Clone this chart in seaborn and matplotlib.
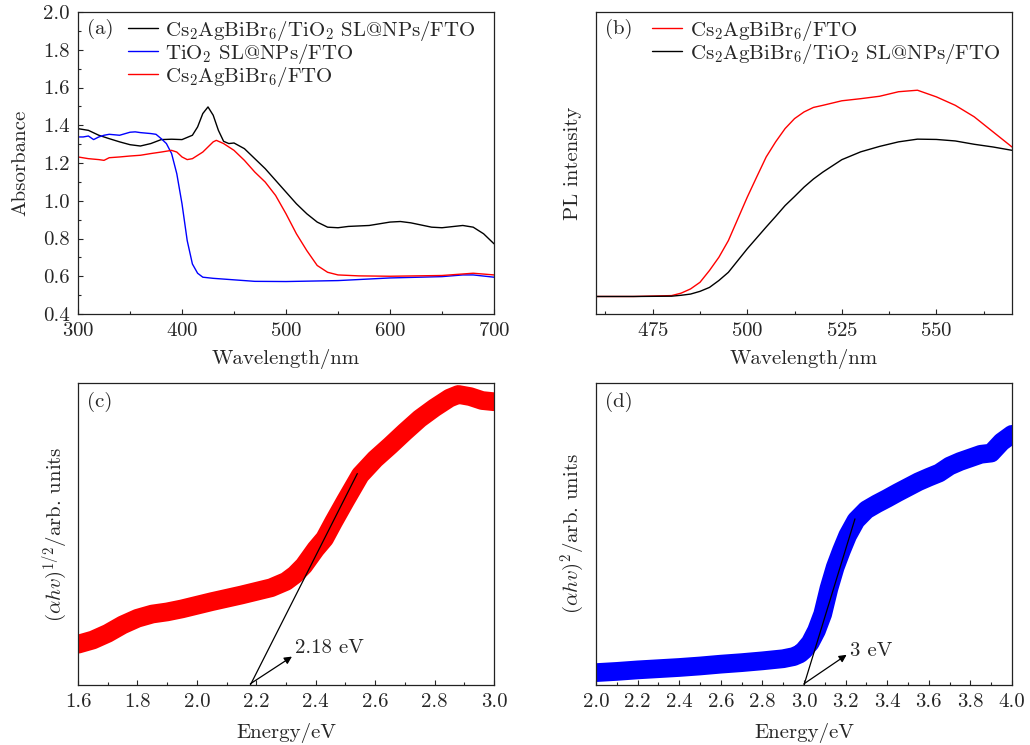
import numpy as np
import pandas as pd
import matplotlib
matplotlib.use("Agg")
import matplotlib.pyplot as plt
from matplotlib.ticker import MultipleLocator, NullLocator
import seaborn as sns

# ---------------- data ----------------
# (a) absorbance
wl_black = [300, 310, 320, 330, 340, 350, 360, 370, 380, 390, 400, 410, 415, 420, 425, 430, 435, 440,
            445, 450, 460, 470, 480, 490, 500, 510, 520, 530, 540, 550, 560, 580, 600, 610, 620, 640,
            650, 670, 680, 690, 700]
abs_black = [1.382, 1.373, 1.347, 1.329, 1.312, 1.297, 1.290, 1.303, 1.324, 1.326, 1.324, 1.347, 1.391,
             1.462, 1.497, 1.453, 1.373, 1.315, 1.303, 1.306, 1.276, 1.223, 1.170, 1.108, 1.046, 0.984,
             0.931, 0.887, 0.860, 0.857, 0.864, 0.869, 0.887, 0.890, 0.883, 0.860, 0.857, 0.869, 0.860,
             0.825, 0.772]
wl_blue = [300, 305, 310, 315, 320, 325, 330, 340, 350, 355, 360, 370, 375, 380, 385, 390, 395, 400,
           405, 410, 415, 420, 430, 450, 470, 500, 550, 600, 650, 670, 680, 700]
abs_blue = [1.338, 1.338, 1.343, 1.324, 1.338, 1.347, 1.352, 1.347, 1.363, 1.365, 1.361, 1.356, 1.352,
            1.329, 1.303, 1.250, 1.143, 0.984, 0.789, 0.665, 0.616, 0.595, 0.589, 0.581, 0.573, 0.572,
            0.577, 0.591, 0.598, 0.607, 0.607, 0.595]
wl_red = [300, 310, 320, 325, 330, 340, 350, 360, 370, 380, 390, 395, 400, 405, 410, 420, 430, 433,
          440, 450, 460, 470, 480, 490, 500, 510, 520, 530, 540, 550, 570, 600, 650, 680, 700]
abs_red = [1.232, 1.223, 1.218, 1.214, 1.228, 1.232, 1.237, 1.241, 1.250, 1.258, 1.267, 1.258, 1.232,
           1.218, 1.223, 1.258, 1.312, 1.320, 1.303, 1.267, 1.214, 1.152, 1.099, 1.028, 0.931, 0.825,
           0.736, 0.657, 0.621, 0.607, 0.602, 0.600, 0.604, 0.616, 0.607]
labels_a = ["Cs$_2$AgBiBr$_6$/TiO$_2$ SL@NPs/FTO", "TiO$_2$ SL@NPs/FTO", "Cs$_2$AgBiBr$_6$/FTO"]

# (b) PL
wl_pl = [460, 470, 480, 482.5, 485, 487.5, 490, 492.5, 495, 497.5, 500, 502.5, 505, 507.5, 510, 512.5,
         515, 517.5, 520, 525, 530, 535, 540, 545, 550, 555, 560, 565, 570]
pl_red = [0.058, 0.058, 0.061, 0.069, 0.083, 0.105, 0.144, 0.188, 0.243, 0.315, 0.387, 0.454, 0.520,
          0.570, 0.614, 0.647, 0.669, 0.684, 0.691, 0.706, 0.713, 0.721, 0.736, 0.741, 0.719, 0.691,
          0.653, 0.603, 0.553]
pl_black = [0.058, 0.058, 0.059, 0.062, 0.066, 0.075, 0.088, 0.111, 0.138, 0.177, 0.216, 0.252, 0.288,
            0.323, 0.359, 0.389, 0.420, 0.447, 0.470, 0.511, 0.537, 0.555, 0.570, 0.579, 0.578, 0.573,
            0.562, 0.553, 0.542]
labels_b = ["Cs$_2$AgBiBr$_6$/FTO", "Cs$_2$AgBiBr$_6$/TiO$_2$ SL@NPs/FTO"]

# (c) Tauc plot, indirect
e_c = [1.60, 1.65, 1.70, 1.75, 1.80, 1.85, 1.90, 1.95, 2.00, 2.05, 2.10, 2.15, 2.20, 2.25, 2.30, 2.33,
       2.36, 2.40, 2.43, 2.46, 2.50, 2.55, 2.60, 2.65, 2.70, 2.75, 2.80, 2.85, 2.88, 2.92, 2.96, 3.00]
t_c = [0.135, 0.149, 0.171, 0.199, 0.221, 0.235, 0.242, 0.252, 0.264, 0.276, 0.287, 0.298, 0.310, 0.322,
       0.343, 0.365, 0.395, 0.450, 0.485, 0.540, 0.610, 0.695, 0.748, 0.792, 0.838, 0.882, 0.918, 0.950,
       0.962, 0.955, 0.942, 0.938]
tan_c_x = [2.18, 2.54]
tan_c_y = [0.0, 0.70]
gap_c = 2.18

# (d) Tauc plot, direct
e_d = [2.00, 2.10, 2.20, 2.30, 2.40, 2.50, 2.60, 2.70, 2.80, 2.90, 2.95, 2.98, 3.00, 3.03, 3.06, 3.09,
       3.12, 3.15, 3.18, 3.21, 3.25, 3.30, 3.35, 3.40, 3.45, 3.50, 3.55, 3.60, 3.65, 3.70, 3.75, 3.80,
       3.85, 3.90, 3.95, 4.00]
t_d = [0.041, 0.045, 0.050, 0.054, 0.058, 0.063, 0.069, 0.074, 0.080, 0.087, 0.094, 0.103, 0.115, 0.140,
       0.180, 0.235, 0.320, 0.390, 0.445, 0.495, 0.545, 0.580, 0.600, 0.618, 0.637, 0.655, 0.673, 0.688,
       0.702, 0.725, 0.740, 0.752, 0.764, 0.768, 0.805, 0.830]
tan_d_x = [3.0, 3.245]
tan_d_y = [0.0, 0.55]
gap_d = 3.0

# ---------------- style ----------------
sns.set_style("ticks")
plt.rcParams["font.family"] = ["cmr10", "DejaVu Serif"]
plt.rcParams["mathtext.fontset"] = "cm"
plt.rcParams["axes.formatter.use_mathtext"] = True
plt.rcParams["axes.unicode_minus"] = False
FS = 15
plt.rcParams.update({
    "font.size": FS, "axes.labelsize": FS, "xtick.labelsize": FS, "ytick.labelsize": FS,
    "legend.fontsize": FS, "axes.edgecolor": "#222222", "axes.linewidth": 0.9,
    "xtick.direction": "in", "ytick.direction": "in",
    "xtick.major.size": 3.5, "ytick.major.size": 3.5,
    "xtick.minor.size": 2.0, "ytick.minor.size": 2.0,
    "xtick.major.width": 0.8, "ytick.major.width": 0.8,
    "xtick.minor.width": 0.8, "ytick.minor.width": 0.8,
    "xtick.major.pad": 5.5, "ytick.major.pad": 6,
})

fig = plt.figure(figsize=(10.3, 7.45), dpi=100)
W, H = 1030, 745
def box(l, t, r, b):
    return [l / W, 1 - b / H, (r - l) / W, (b - t) / H]

ax_a = fig.add_axes(box(78, 12, 494, 314))
ax_b = fig.add_axes(box(596, 12, 1012, 314))
ax_c = fig.add_axes(box(78, 383, 494, 685))
ax_d = fig.add_axes(box(596, 383, 1012, 685))

LW = 1.0
leg_kw = dict(loc="upper left", frameon=False, borderaxespad=0, borderpad=0,
              handlelength=1.45, handletextpad=0.35, labelspacing=-0.05)
# (a)
sns.lineplot(x=wl_black, y=abs_black, ax=ax_a, color="black", lw=LW, label=labels_a[0])
sns.lineplot(x=wl_blue, y=abs_blue, ax=ax_a, color="#0000ff", lw=LW, label=labels_a[1])
sns.lineplot(x=wl_red, y=abs_red, ax=ax_a, color="#ff0000", lw=LW, label=labels_a[2])
ax_a.set_xlim(300, 700)
ax_a.set_ylim(0.4, 2.0)
ax_a.xaxis.set_major_locator(MultipleLocator(100))
ax_a.xaxis.set_minor_locator(MultipleLocator(50))
ax_a.yaxis.set_major_locator(MultipleLocator(0.2))
ax_a.yaxis.set_minor_locator(MultipleLocator(0.1))
ax_a.yaxis.set_major_formatter(matplotlib.ticker.FormatStrFormatter("%.1f"))
ax_a.set_xlabel("Wavelength/nm", labelpad=7)
ax_a.set_ylabel("Absorbance", labelpad=10)
ax_a.legend(bbox_to_anchor=(0.12, 0.978), **leg_kw)
ax_a.text(0.022, 0.944, "(a)", transform=ax_a.transAxes, va="center", ha="left")

# (b)
sns.lineplot(x=wl_pl, y=pl_red, ax=ax_b, color="#ff0000", lw=LW, label=labels_b[0])
sns.lineplot(x=wl_pl, y=pl_black, ax=ax_b, color="black", lw=LW, label=labels_b[1])
ax_b.set_xlim(460, 570)
ax_b.set_ylim(0, 1)
ax_b.xaxis.set_major_locator(MultipleLocator(25))
ax_b.xaxis.set_minor_locator(MultipleLocator(12.5))
ax_b.yaxis.set_major_locator(NullLocator())
ax_b.set_xlabel("Wavelength/nm", labelpad=7)
ax_b.set_ylabel("PL intensity", labelpad=10)
ax_b.legend(bbox_to_anchor=(0.135, 0.978), **leg_kw)
ax_b.text(0.022, 0.944, "(b)", transform=ax_b.transAxes, va="center", ha="left")

# (c) and (d)
BAND = 13.5
def tauc(ax, e, t, color, tx, ty, gap, tip, txt, txt_dy, label):
    sns.lineplot(x=e, y=t, ax=ax, color=color, lw=BAND, solid_capstyle="round",
                 solid_joinstyle="round")
    sns.lineplot(x=tx, y=ty, ax=ax, color="black", lw=0.9)
    ax.annotate("", xy=tip, xytext=(gap, 0.004),
                arrowprops=dict(arrowstyle="-|>", color="black", lw=0.9, mutation_scale=11,
                                shrinkA=0, shrinkB=0))
    ax.text(tip[0] + 0.008 * (ax.get_xlim()[1] - ax.get_xlim()[0]), tip[1] + txt_dy, txt,
            va="center", ha="left")
    ax.set_ylim(0, 1)
    ax.yaxis.set_major_locator(NullLocator())
    ax.xaxis.set_major_locator(MultipleLocator(0.2))
    ax.xaxis.set_minor_locator(MultipleLocator(0.1))
    ax.xaxis.set_major_formatter(matplotlib.ticker.FormatStrFormatter("%.1f"))
    ax.set_xlabel("Energy/eV", labelpad=9)
    ax.set_ylabel(label, labelpad=6.5)

ax_c.set_xlim(1.6, 3.0)
tauc(ax_c, e_c, t_c, "#ff0000", tan_c_x, tan_c_y, gap_c, (2.32, 0.094), "2.18 eV", 0.028,
     r"$(\alpha hv)^{1/2}$/arb. units")
ax_c.text(0.022, 0.937, "(c)", transform=ax_c.transAxes, va="center", ha="left")

ax_d.set_xlim(2.0, 4.0)
tauc(ax_d, e_d, t_d, "#0000ff", tan_d_x, tan_d_y, gap_d, (3.205, 0.10), "3 eV", 0.013,
     r"$(\alpha hv)^{2}$/arb. units")
ax_d.text(0.022, 0.937, "(d)", transform=ax_d.transAxes, va="center", ha="left")

for ax in (ax_a, ax_b, ax_c, ax_d):
    ax.tick_params(which="both", top=False, right=False)

fig.savefig("out.png", dpi=100)
